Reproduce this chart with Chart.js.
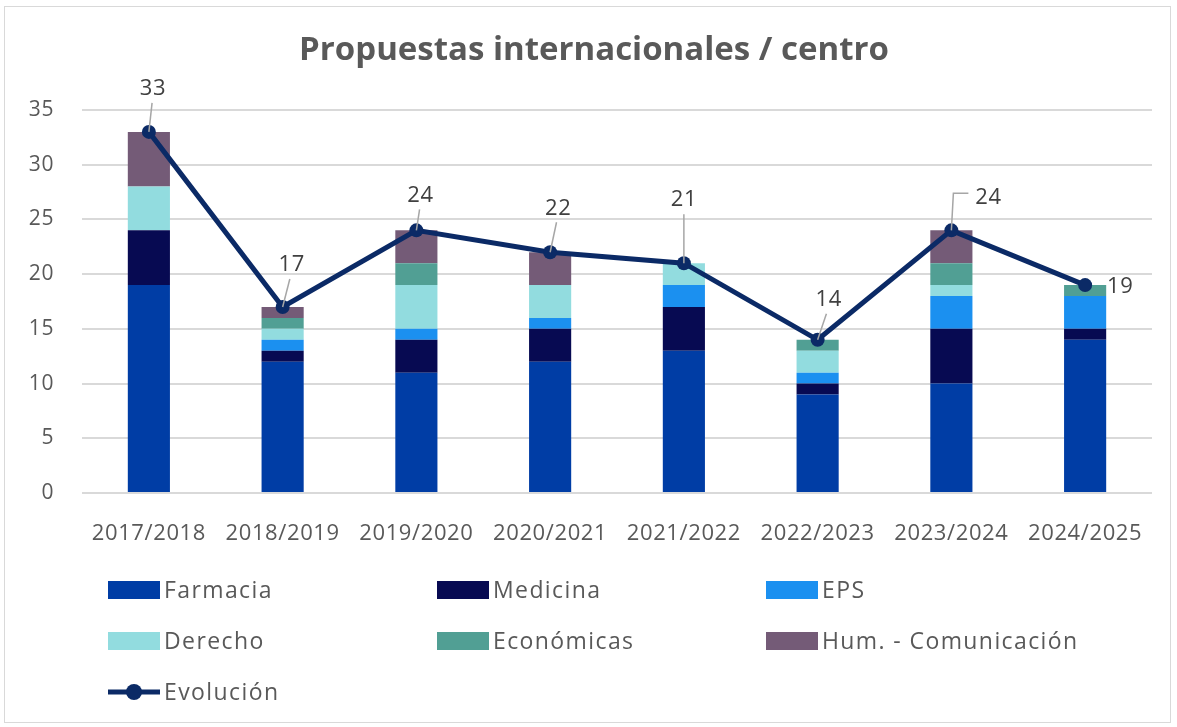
<!DOCTYPE html>
<html>
<head>
<meta charset="utf-8">
<script src="https://cdn.jsdelivr.net/npm/chart.js@4"></script>
<style>
  html, body { margin: 0; padding: 0; background: #fff; }
  #wrap { width: 1177px; height: 727px; position: relative; }
</style>
</head>
<body>
<div id="wrap"><canvas id="chart" width="1177" height="727"></canvas></div>
<script>
const categories = ['2017/2018', '2018/2019', '2019/2020', '2020/2021', '2021/2022', '2022/2023', '2023/2024', '2024/2025'];
const farmacia   = [19, 12, 11, 12, 13, 9, 10, 14];
const medicina   = [5, 1, 3, 3, 4, 1, 5, 1];
const eps        = [0, 1, 1, 1, 2, 1, 3, 3];
const derecho    = [4, 1, 4, 3, 2, 2, 1, 0];
const economicas = [0, 1, 2, 0, 0, 1, 2, 1];
const humanidades = [5, 1, 3, 3, 0, 0, 3, 0];
const evolucion  = [33, 17, 24, 22, 21, 14, 24, 19];

// label offsets relative to each point [dx, dy, leader style]
const labelOffsets = [[4, -43, 'line'], [9, -42, 'line'], [4, -35, 'line'], [8, -44, 'line'], [0, -63, 'line'], [11, -40, 'line'], [37, -33, 'elbow'], [35, 2, 'none']];

const FONT = "'Open Sans', sans-serif";
const TXT = '#595959';

const labelsPlugin = {
  id: 'pointLabels',
  afterDatasetsDraw(chart) {
    const ctx = chart.ctx;
    const meta = chart.getDatasetMeta(6);
    ctx.save();
    ctx.font = `22px ${FONT}`;
    ctx.letterSpacing = '0.5px';
    ctx.fillStyle = '#404040';
    ctx.textAlign = 'center';
    ctx.textBaseline = 'middle';
    meta.data.forEach((pt, i) => {
      const [dx, dy, kind] = labelOffsets[i];
      const lx = pt.x + dx, ly = pt.y + dy;
      ctx.strokeStyle = '#a6a6a6';
      ctx.lineWidth = 1.5;
      if (kind === 'line') {
        ctx.beginPath();
        ctx.moveTo(pt.x, pt.y);
        ctx.lineTo(pt.x + dx * 0.8, pt.y + dy + 14);
        ctx.stroke();
      } else if (kind === 'elbow') {
        ctx.beginPath();
        ctx.moveTo(pt.x, pt.y);
        ctx.lineTo(pt.x + 2, ly - 4);
        ctx.lineTo(lx - 20, ly - 4);
        ctx.stroke();
      }
      ctx.fillText(String(evolucion[i]), lx, ly);
    });
    ctx.restore();
  }
};

const framePlugin = {
  id: 'frame',
  beforeDraw(chart) {
    const ctx = chart.ctx;
    ctx.save();
    ctx.fillStyle = '#fff';
    ctx.fillRect(0, 0, chart.width, chart.height);
    ctx.strokeStyle = '#d9d9d9';
    ctx.lineWidth = 1;
    ctx.strokeRect(4.5, 6.5, 1166, 716);
    ctx.font = `bold 33px ${FONT}`;
    ctx.fillStyle = TXT;
    ctx.textAlign = 'center';
    ctx.textBaseline = 'middle';
    ctx.fillText('Propuestas internacionales / centro', 594, 51);
    ctx.restore();
    ctx.letterSpacing = '0.6px';
  },
  afterDraw(chart) {
    const ctx = chart.ctx;
    const cols = [108, 437, 766];
    const rows = [590, 641, 692];
    ctx.save();
    ctx.font = `23px ${FONT}`;
    ctx.letterSpacing = '1.4px';
    ctx.fillStyle = TXT;
    ctx.textBaseline = 'middle';
    chart.data.datasets.forEach((ds, i) => {
      const x = cols[i % 3], y = rows[Math.floor(i / 3)];
      if (ds.type === 'line') {
        ctx.strokeStyle = ds.borderColor;
        ctx.lineWidth = 5;
        ctx.beginPath();
        ctx.moveTo(x, y);
        ctx.lineTo(x + 52, y);
        ctx.stroke();
        ctx.fillStyle = ds.borderColor;
        ctx.beginPath();
        ctx.arc(x + 26, y, 8, 0, Math.PI * 2);
        ctx.fill();
      } else {
        ctx.fillStyle = ds.backgroundColor;
        ctx.fillRect(x, y - 9, 52, 18);
      }
      ctx.fillStyle = TXT;
      ctx.fillText(ds.label, x + 56, y + 1);
    });
    ctx.restore();
  }
};

function bar(label, data, color) {
  return { type: 'bar', label, data, backgroundColor: color, stack: 'centros', order: 1,
           barPercentage: 0.315, categoryPercentage: 1 };
}

new Chart(document.getElementById('chart'), {
  data: {
    labels: categories,
    datasets: [
      bar('Farmacia', farmacia, '#003da5'),
      bar('Medicina', medicina, '#070a52'),
      bar('EPS', eps, '#1b90f0'),
      bar('Derecho', derecho, '#92dcdf'),
      bar('Económicas', economicas, '#519f94'),
      bar('Hum. - Comunicación', humanidades, '#745b77'),
      { type: 'line', label: 'Evolución', data: evolucion, borderColor: '#0b2a66', backgroundColor: '#0b2a66',
        borderWidth: 5, pointRadius: 7, pointBackgroundColor: '#0b2a66', pointBorderWidth: 0,
        stack: 'total', order: 0, tension: 0 }
    ]
  },
  options: {
    responsive: false,
    animation: false,
    layout: { padding: { left: 20, right: 25, top: 110, bottom: 0 } },
    plugins: { legend: { display: false }, tooltip: { enabled: false } },
    scales: {
      x: {
        stacked: true,
        grid: { display: false },
        border: { display: false },
        ticks: { color: TXT, font: { family: FONT, size: 22 }, padding: 20, maxRotation: 0 },
        afterFit(s) { s.height = 234; }
      },
      y: {
        stacked: true,
        min: 0, max: 35,
        grid: { color: '#d9d9d9', lineWidth: 2, drawTicks: false },
        border: { display: false },
        ticks: { stepSize: 5, color: TXT, font: { family: FONT, size: 21 }, padding: 28 },
        afterFit(s) { s.width = 62; }
      }
    }
  },
  plugins: [framePlugin, labelsPlugin]
});
</script>
</body>
</html>
